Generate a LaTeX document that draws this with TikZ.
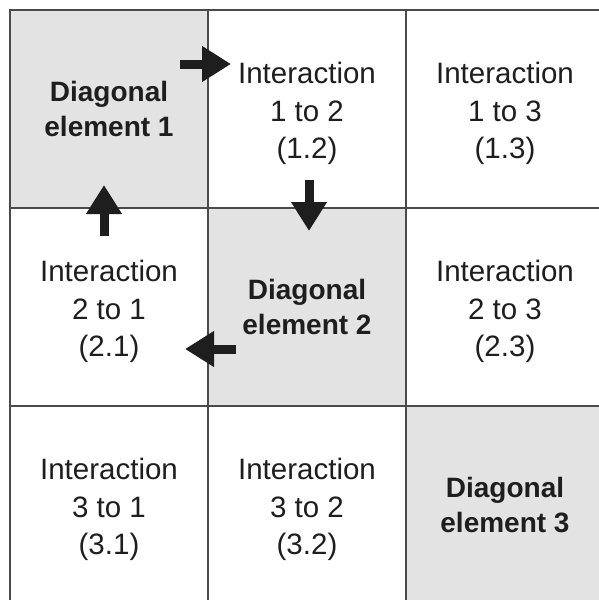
\documentclass[tikz,border=0pt]{standalone}
\usepackage{fontspec}
\setmainfont{Liberation Sans}
\usetikzlibrary{arrows.meta}
\definecolor{cellgray}{HTML}{E3E3E3}
\definecolor{gridline}{HTML}{4A4A4A}
\definecolor{ink}{HTML}{1E1E1E}
\tikzset{
  cell/.style={draw=gridline, line width=1.3pt, minimum width=198pt, minimum height=198pt, inner sep=0pt},
  diag/.style={cell, fill=cellgray},
  itext/.style={align=center, text=ink, inner sep=0pt, font=\fontsize{29.5}{37.5}\selectfont},
  dtext/.style={align=center, text=ink, inner sep=0pt, font=\fontsize{28}{35}\selectfont\bfseries},
  blockarrow/.style={draw=ink, line width=9pt, -{Triangle[length=29pt,width=34pt]}}
}
\begin{document}
\begin{tikzpicture}[x=1pt,y=-1pt]
\useasboundingbox (0,0) rectangle (599,600);
\clip (0,0) rectangle (599,600);
\fill[white] (0,0) rectangle (599,600);
\node[diag] (c11) at (109,109) {};
\node[cell] (c12) at (307,109) {};
\node[cell] (c13) at (505,109) {};
\node[cell] (c21) at (109,307) {};
\node[diag] (c22) at (307,307) {};
\node[cell] (c23) at (505,307) {};
\node[cell] (c31) at (109,505) {};
\node[cell] (c32) at (307,505) {};
\node[diag] (c33) at (505,505) {};
\node[dtext] (t11) at ([yshift=0pt]c11.center) {Diagonal\\element 1};
\node[itext] (t12) at ([yshift=-4.5pt]c12.center) {Interaction\\1 to 2\\(1.2)};
\node[itext] (t13) at ([yshift=-4.5pt]c13.center) {Interaction\\1 to 3\\(1.3)};
\node[itext] (t21) at ([yshift=-4.5pt]c21.center) {Interaction\\2 to 1\\(2.1)};
\node[dtext] (t22) at ([yshift=0pt]c22.center) {Diagonal\\element 2};
\node[itext] (t23) at ([yshift=-4.5pt]c23.center) {Interaction\\2 to 3\\(2.3)};
\node[itext] (t31) at ([yshift=-4.5pt]c31.center) {Interaction\\3 to 1\\(3.1)};
\node[itext] (t32) at ([yshift=-4.5pt]c32.center) {Interaction\\3 to 2\\(3.2)};
\node[dtext] (t33) at ([yshift=0pt]c33.center) {Diagonal\\element 3};
\coordinate (a1s) at (180,64);
\coordinate (a1e) at (231,64);
\coordinate (a2s) at (309,180);
\coordinate (a2e) at (309,231);
\coordinate (a3s) at (236,349);
\coordinate (a3e) at (185,349);
\coordinate (a4s) at (104,236);
\coordinate (a4e) at (104,185);
\draw[blockarrow] (a1s) -- (a1e);
\draw[blockarrow] (a2s) -- (a2e);
\draw[blockarrow] (a3s) -- (a3e);
\draw[blockarrow] (a4s) -- (a4e);
\end{tikzpicture}
\end{document}
